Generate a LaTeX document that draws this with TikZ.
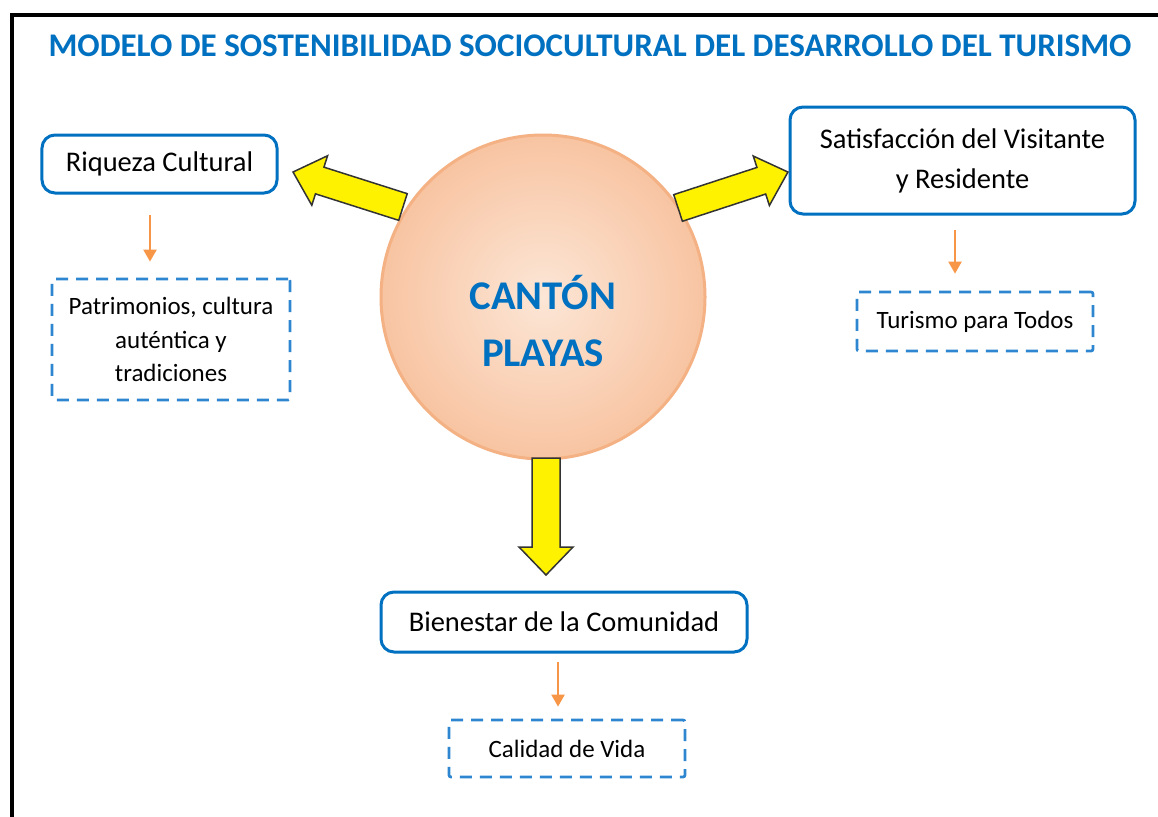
\documentclass[tikz,border=0pt]{standalone}
\usepackage{fontspec}
\setmainfont{Carlito}
\usetikzlibrary{arrows.meta,positioning}

\definecolor{tblue}{HTML}{0070C0}
\definecolor{dblue}{HTML}{2E86D0}
\definecolor{oline}{HTML}{F79646}
\definecolor{peach}{HTML}{F4B183}
\definecolor{peachin}{HTML}{FCE6D6}
\definecolor{peachout}{HTML}{F8C4A2}

\tikzset{
  mainbox/.style={draw=tblue, line width=0.6mm, rounded corners=2.6mm, align=center,
    font=\fontsize{16.2}{22.7}\selectfont},
  subbox/.style={draw=dblue, line width=0.55mm, dash pattern=on 2.4mm off 1.6mm,
    rounded corners=0.4mm, align=center, font=\fontsize{14.2}{19}\selectfont},
  oarrow/.style={draw=oline, line width=0.45mm, -{Triangle[width=2.6mm,length=2.4mm]}},
  yarrow/.style={fill=yellow, draw=black!80, line width=0.3mm, line join=miter},
}

\begin{document}
\begin{tikzpicture}[x=0.2mm, y=-0.2mm]
    \useasboundingbox (0,0) rectangle (1158,816);
    \clip (0,0) rectangle (1158,816);
    \fill[white] (0,0) rectangle (1158,816);
    % frame
    \draw[line width=0.8mm] (11.5,15) rectangle (1180,840);
    \node[text=tblue, font=\fontsize{18.8}{22}\selectfont\bfseries] (title) at (590,46)
        {MODELO DE SOSTENIBILIDAD SOCIOCULTURAL DEL DESARROLLO DEL TURISMO};

    % centre
    \node[circle, draw=peach, line width=0.6mm, minimum size=64.8mm,
        shading=radial, inner color=peachin, outer color=peachout] (canton) at (543,297) {};
    \node[text=tblue, align=center, font=\fontsize{23.2}{32.3}\selectfont\bfseries]
        (cantontxt) at ([yshift=-4.8mm]canton.center) {CANTÓN\\PLAYAS};

    % boxes
    \node[mainbox, minimum width=47mm, minimum height=11.6mm] (riqueza) at (159.5,164) {Riqueza Cultural};
    \node[mainbox, minimum width=69mm, minimum height=21.4mm] (satis) at (962.5,160.5)
        {Satisfacción del Visitante\\y Residente};
    \node[mainbox, minimum width=73.2mm, minimum height=12mm] (bienestar) at (564,622)
        {Bienestar de la Comunidad};

    \node[subbox, minimum width=47.6mm, minimum height=24.2mm] (patri) at (171,339.5)
        {Patrimonios, cultura\\auténtica y\\tradiciones};
    \node[subbox, minimum width=47.2mm, minimum height=11.8mm] (turismo) at (975,321.5)
        {Turismo para Todos};
    \node[subbox, minimum width=47.2mm, minimum height=11.4mm] (calidad) at (567,748.5)
        {Calidad de Vida};

    % yellow block arrows
    \draw[yarrow, shift={(348,189.5)}, rotate=162.35]
        (-57.7,-14) -- (29.7,-14) -- (29.7,-26) -- (57.7,0) -- (29.7,26) -- (29.7,14) -- (-57.7,14) -- cycle;
    \draw[yarrow, shift={(733,190)}, rotate=18.1]
        (-57.8,-14) -- (29.8,-14) -- (29.8,-26) -- (57.8,0) -- (29.8,26) -- (29.8,14) -- (-57.8,14) -- cycle;
    \draw[yarrow, shift={(546,516.5)}, rotate=-90]
        (-58.5,-14) -- (30.5,-14) -- (30.5,-27) -- (58.5,0) -- (30.5,27) -- (30.5,14) -- (-58.5,14) -- cycle;

    % orange arrows
    \draw[oarrow, shorten <=4mm, shorten >=3.2mm] ([xshift=-1.9mm]riqueza.south) -- ([xshift=-1.9mm]riqueza.south |- patri.north);
    \draw[oarrow, shorten <=2.8mm, shorten >=3.4mm] ([xshift=-1.5mm]satis.south) -- ([xshift=-1.5mm]satis.south |- turismo.north);
    \draw[oarrow, shorten <=1.6mm, shorten >=2.4mm] ([xshift=-1.2mm]bienestar.south) -- ([xshift=-1.2mm]bienestar.south |- calidad.north);
\end{tikzpicture}
\end{document}
